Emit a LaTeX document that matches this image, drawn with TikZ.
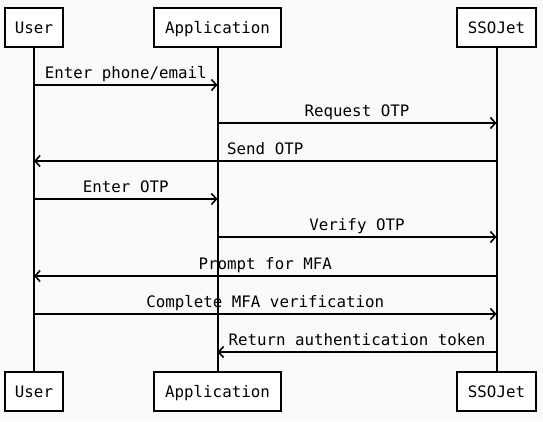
\documentclass[tikz,border=0pt]{standalone}
\usepackage{fontspec}
\setmonofont{DejaVu Sans Mono}
\usetikzlibrary{arrows.meta}
\begin{document}
\begin{tikzpicture}[x=1pt,y=1pt,
  actor/.style={draw=black, line width=1.7pt, fill=white, minimum height=39pt, inner sep=0pt, text height=11.5pt, text depth=0pt, font=\ttfamily\fontsize{15.8}{18}\selectfont},
  life/.style={line width=2pt},
  msg/.style={line width=1.5pt, -{Straight Barb[length=5pt,width=11pt,line width=1.6pt]}},
  lbl/.style={anchor=base, inner sep=0pt, font=\ttfamily\fontsize{15.8}{18}\selectfont}]
\fill[gray!4] (0,0) rectangle (543,-421);
\useasboundingbox (0,0) rectangle (543,-421);
% top actors
\node[actor, minimum width=58pt] (ut) at (34,-27.5) {User};
\node[actor, minimum width=127pt] (at) at (217.5,-27.5) {Application};
\node[actor, minimum width=79pt] (st) at (496.5,-27.5) {SSOJet};
% bottom actors
\node[actor, minimum width=58pt] (ub) at (34,-391.5) {User};
\node[actor, minimum width=127pt] (ab) at (217.5,-391.5) {Application};
\node[actor, minimum width=79pt] (sb) at (496.5,-391.5) {SSOJet};
% lifelines
\draw[life] (ut.south) -- (ub.north);
\draw[life] (at.south) -- (ab.north);
\draw[life] (st.south) -- (sb.north);
% messages
\draw[msg] (ut |- 0,-85) -- (at |- 0,-85);
\node[lbl] (l1) at (125.75,-78) {Enter phone/email};
\draw[msg] (at |- 0,-123) -- (st |- 0,-123);
\node[lbl] (l2) at (357,-116) {Request OTP};
\draw[msg] (st |- 0,-161) -- (ut |- 0,-161);
\node[lbl] (l3) at (265.25,-154) {Send OTP};
\draw[msg] (ut |- 0,-199) -- (at |- 0,-199);
\node[lbl] (l4) at (125.75,-192) {Enter OTP};
\draw[msg] (at |- 0,-237) -- (st |- 0,-237);
\node[lbl] (l5) at (357,-230) {Verify OTP};
\draw[msg] (st |- 0,-276) -- (ut |- 0,-276);
\node[lbl] (l6) at (265.25,-269) {Prompt for MFA};
\draw[msg] (ut |- 0,-314) -- (st |- 0,-314);
\node[lbl] (l7) at (265.25,-307) {Complete MFA verification};
\draw[msg] (st |- 0,-352) -- (at |- 0,-352);
\node[lbl] (l8) at (357,-345) {Return authentication token};
\end{tikzpicture}
\end{document}
